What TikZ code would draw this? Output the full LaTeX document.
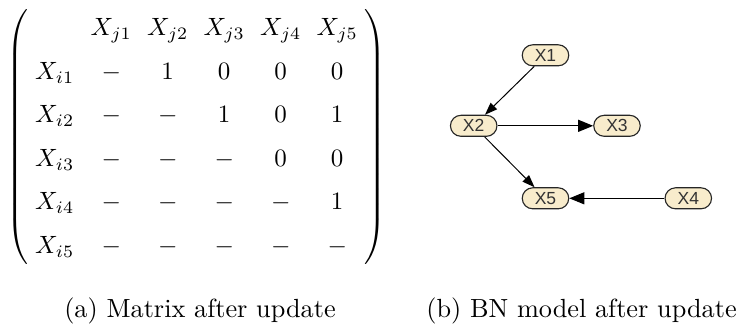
\documentclass[tikz,border=0pt]{standalone}
\usepackage{amsmath}
\usepackage{amssymb}
\usepackage{xcolor}
\usepackage{fontspec}
\usepackage{tikz}
\usetikzlibrary{matrix,arrows.meta}
\newfontfamily\bnfont{Liberation Sans}
\definecolor{bnfill}{RGB}{248,236,204}
\newcommand{\matfont}{\fontsize{10}{12}\selectfont}
\newcommand{\capfont}{\fontsize{10.5}{12.5}\selectfont}

\begin{document}
\begin{tikzpicture}[x=0.4pt,y=-0.4pt,
  cell/.style={minimum width=22.6pt,text height=7pt,text depth=2.2pt,inner xsep=0pt,inner ysep=4.1pt,anchor=base,font=\matfont},
  every delimiter/.style={yshift=0.8pt},
  bnnode/.style={rectangle,rounded corners=4.2pt,minimum width=18.6pt,minimum height=8.4pt,inner sep=0pt,
    draw=black!85,line width=0.45pt,fill=bnfill,font=\bnfont\fontsize{7}{8}\selectfont,text=black!80},
  bnedge/.style={line width=0.4pt,-{Triangle[length=5pt,width=3.6pt]}},
  bnedgebig/.style={line width=0.45pt,-{Triangle[length=6pt,width=4.8pt]}}]
\useasboundingbox (0,0) rectangle (742,329);

% (a) matrix, rows i / columns j
\matrix (adj) [matrix of math nodes,nodes={cell},inner xsep=-2pt,inner ysep=-0.5pt,
  left delimiter=(,right delimiter=),column sep=0pt,row sep=0pt] at (196,138.5) {
         & X_{j1} & X_{j2} & X_{j3} & X_{j4} & X_{j5} \\
  X_{i1} & -      & 1      & 0      & 0      & 0      \\
  X_{i2} & -      & -      & 1      & 0      & 1      \\
  X_{i3} & -      & -      & -      & 0      & 0      \\
  X_{i4} & -      & -      & -      & -      & 1      \\
  X_{i5} & -      & -      & -      & -      & -      \\
};
\node[font=\capfont,anchor=base] (capa) at (200,317) {(a) Matrix after update};

% (b) BN model
\node[bnnode] (x1) at (545.5,55.3) {X1};
\node[bnnode] (x2) at (473.7,125.8) {X2};
\node[bnnode] (x3) at (617,125.8) {X3};
\node[bnnode] (x5) at (545.5,198.3) {X5};
\node[bnnode] (x4) at (688.3,198.3) {X4};
\draw[bnedge] (x1) -- (x2);
\draw[bnedgebig] (x2) -- (x3);
\draw[bnedge] (x2) -- (x5);
\draw[bnedgebig] (x4) -- (x5);
\node[font=\capfont,anchor=base] (capb) at (581.5,317) {(b) BN model after update};
\end{tikzpicture}
\end{document}
